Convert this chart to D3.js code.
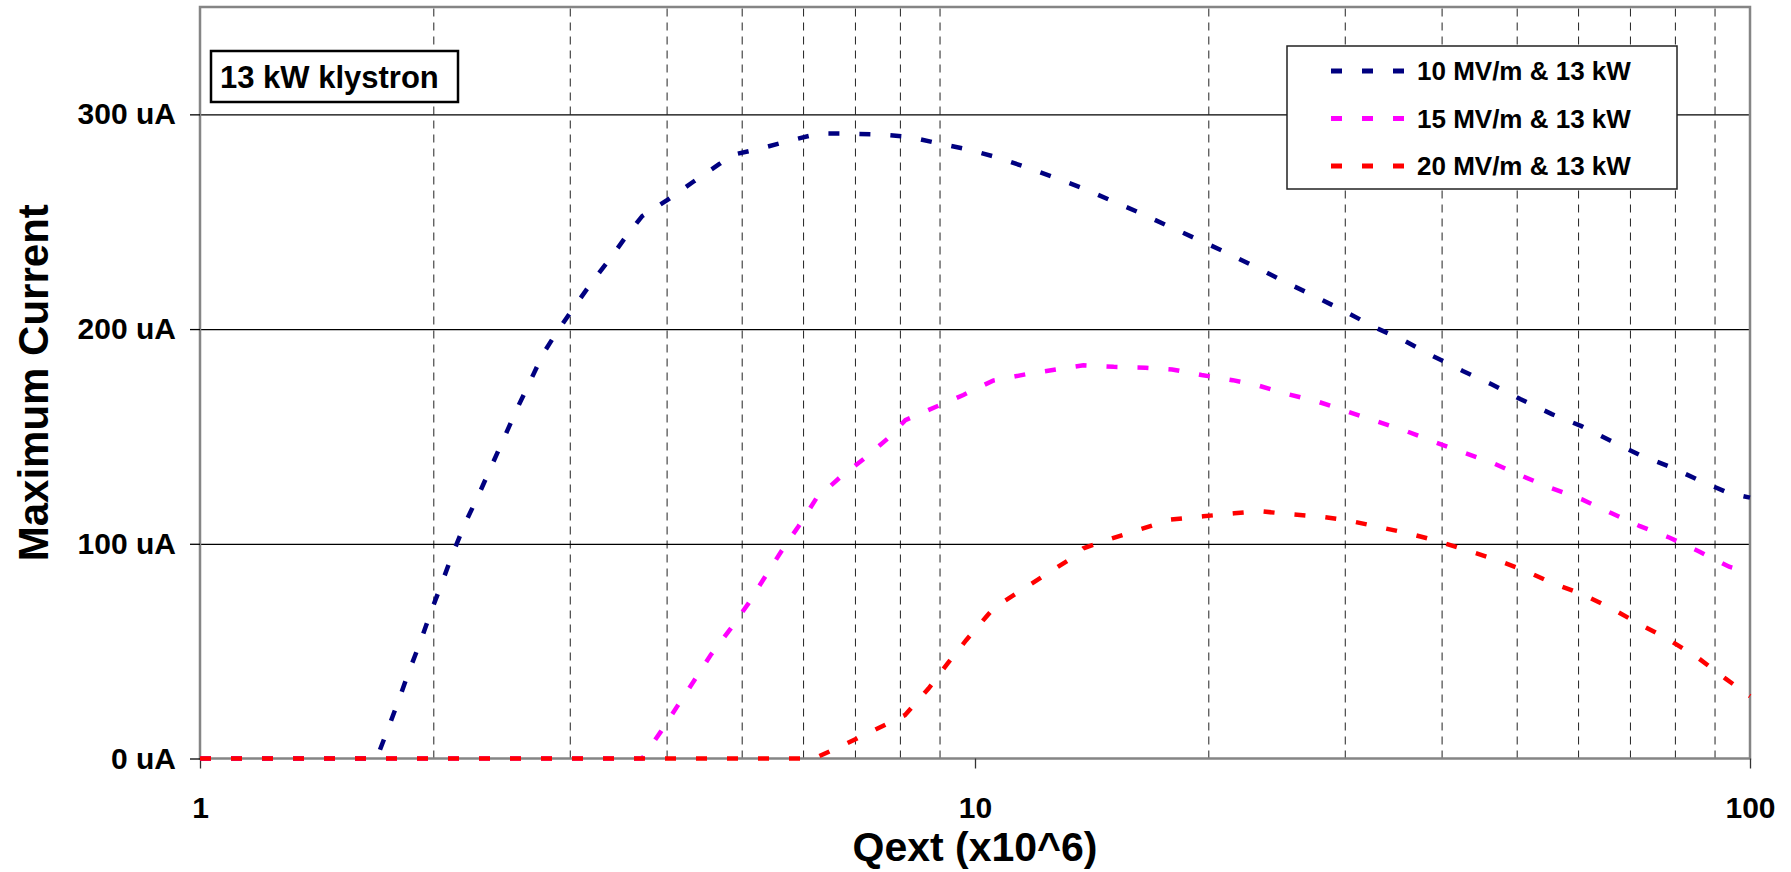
<!DOCTYPE html>
<html><head><meta charset="utf-8">
<script src="https://cdn.jsdelivr.net/npm/d3@7"></script>
<style>
body{margin:0;background:#fff}
svg{display:block}
text{font-family:"Liberation Sans",Arial,sans-serif;font-weight:bold;fill:#000}
</style>
</head><body>
<svg id="chart" width="1791" height="872"></svg>
<script>
// ---- data ----
const seriesNames = ["10 MV/m & 13 kW", "15 MV/m & 13 kW", "20 MV/m & 13 kW"];
const seriesColors = ["#000080", "#ff00ff", "#ff0000"];

const qext10 = [1, 1.69, 1.749, 1.806, 1.862, 1.925, 1.984, 2.049, 2.115, 2.198, 2.29, 2.377, 2.467, 2.56, 2.665,
  2.77, 2.88, 3.03, 3.2, 3.38, 3.57, 3.72, 4.02, 4.33, 4.68, 4.85, 5.3, 5.8, 6.3, 6.88,
  7.56, 8.2, 8.94, 9.78, 10.6, 11.6, 12.6, 13.8, 15.0, 16.3, 17.8, 19.5, 21.2, 23.2, 25.3,
  27.4, 30.1, 32.9, 35.8, 39.0, 42.6, 46.4, 50.6, 55.5, 60.6, 66.1, 72.1, 78.8, 85.8, 94.0, 100];
const current10 = [0, 0, 14, 27.5, 40.9, 54.4, 67.9, 81.2, 94.7, 109.5, 123, 136.2, 149.1, 162.3, 175.4,
  188.4, 198, 209.6, 221.6, 232.7, 244.6, 252.6, 260.4, 268.6, 276.9, 281, 284.2, 288, 291.1, 291,
  290.6, 289.6, 286.6, 283.7, 280.3, 275.6, 270.9, 265.5, 259.8, 254.2, 247.8, 241.3, 235.3, 228.3, 221.4,
  215.4, 208, 200.6, 194.6, 187.4, 180.5, 174.3, 167.3, 160.4, 154.8, 148, 141.3, 135.9, 129.7, 123.5, 121.5];

const qext15 = [1, 3.72, 3.93, 4.13, 4.34, 4.56, 4.83, 5.10, 5.35, 5.62, 5.92, 6.24, 6.71, 7.2, 7.75,
  8.13, 8.89, 9.66, 10.55, 11.65, 12.75, 13.8, 15.1, 16.6, 17.96, 19.6, 21.5, 23.3, 25.4, 27.8,
  30.2, 33.0, 36.0, 39.4, 42.8, 46.8, 51.1, 55.5, 60.7, 66.3, 72.1, 78.8, 86.1, 94.0, 100];
const current15 = [0, 0, 12.4, 24.4, 36.2, 48.2, 60.1, 72.2, 84.2, 96.3, 108.2, 121.1, 131.2, 139.8, 149.6,
  157.6, 163.7, 169.3, 176, 179, 181.2, 183.1, 182.4, 182, 181.2, 178.6, 176.2, 173.5, 169.6, 166,
  161.7, 157, 152.5, 147.1, 142.4, 137.3, 131.2, 125.8, 120.7, 114.2, 108.2, 102.8, 96.3, 89.3, 86.5];

const qext20 = [1, 6.2, 6.83, 7.41, 8.12, 8.71, 9.22, 9.74, 10.34, 10.6, 11.45, 12.37, 13.35, 13.8, 15.0,
  16.4, 17.9, 19.7, 21.6, 23.3, 25.5, 28.0, 30.2, 33.1, 36.3, 39.4, 43.0, 46.9, 51.1, 55.5,
  60.7, 66.3, 72.0, 78.2, 85.9, 92.9, 100];
const current20 = [0, 0, 7, 13.2, 20.2, 32.6, 44.3, 55.1, 66, 70.4, 78.1, 85.9, 93.5, 97.9, 102.4,
  106.9, 111.3, 112.8, 114.2, 115.2, 113.8, 112.6, 111, 107.9, 104.8, 101.4, 97.1, 92.7, 87.7, 81.8,
  76.6, 69.9, 62.6, 55.8, 46.6, 37.3, 29];

const xTickValues = [1, 10, 100];
const xTickLabels = ["1", "10", "100"];
const xMinorValues = [2, 3, 4, 5, 6, 7, 8, 9, 20, 30, 40, 50, 60, 70, 80, 90];
const yTickValues = [0, 100, 200, 300];
const yTickLabels = ["0 uA", "100 uA", "200 uA", "300 uA"];
const xTitle = "Qext (x10^6)";
const yTitle = "Maximum Current";
const boxTitle = "13 kW klystron";

// ---- layout ----
const L = 200, R = 1750, T = 7, B = 758.5;
const svg = d3.select("#chart");
const x = d3.scaleLog().domain([1, 100]).range([L, R]);
const y = d3.scaleLinear().domain([0, 350]).range([B, T]);

// vertical dashed grid
const gx = svg.append("g").attr("transform", `translate(0,${B})`)
  .call(d3.axisBottom(x).tickValues(xMinorValues).tickSize(-(B - T)).tickFormat(""));
gx.select(".domain").remove();
gx.selectAll("line").attr("stroke", "#222").attr("stroke-width", 1).attr("stroke-dasharray", "8,6");

// horizontal grid
const gy = svg.append("g").attr("transform", `translate(${L},0)`)
  .call(d3.axisLeft(y).tickValues(yTickValues.filter(v => v > 0)).tickSize(-(R - L)).tickFormat(""));
gy.select(".domain").remove();
gy.selectAll("line").attr("stroke", "#000").attr("stroke-width", 1.3);

// frame
svg.append("rect").attr("x", L).attr("y", T).attr("width", R - L).attr("height", B - T)
  .attr("fill", "none").attr("stroke", "#858585").attr("stroke-width", 2.5);

// y axis ticks + labels
const ay = svg.append("g").attr("transform", `translate(${L},0)`)
  .call(d3.axisLeft(y).tickValues(yTickValues).tickSize(10).tickPadding(14)
    .tickFormat((d, i) => yTickLabels[i]));
ay.select(".domain").remove();
ay.selectAll("line").attr("stroke", "#000").attr("stroke-width", 1.3);
ay.selectAll("text").attr("font-size", 30).attr("font-family", "Liberation Sans, Arial, sans-serif")
  .attr("font-weight", "bold").attr("fill", "#000");

// x axis ticks + labels
const ax = svg.append("g").attr("transform", `translate(0,${B})`)
  .call(d3.axisBottom(x).tickValues(xTickValues).tickSize(10).tickPadding(28)
    .tickFormat((d, i) => xTickLabels[i]));
ax.select(".domain").remove();
ax.selectAll("line").attr("stroke", "#333").attr("stroke-width", 1.3);
ax.selectAll("text").attr("font-size", 30).attr("font-family", "Liberation Sans, Arial, sans-serif")
  .attr("font-weight", "bold").attr("fill", "#000");

// series
const series = [
  {q: qext10, c: current10},
  {q: qext15, c: current15},
  {q: qext20, c: current20}
];
const line = d3.line().x(d => x(d[0])).y(d => y(d[1]));
series.forEach((s, i) => {
  const pts = s.q.map((q, k) => [q, s.c[k]]);
  svg.append("path").datum(pts).attr("d", line)
    .attr("fill", "none").attr("stroke", seriesColors[i]).attr("stroke-width", 4.5)
    .attr("stroke-dasharray", "11,20").attr("stroke-linecap", "butt");
});

// axis titles
svg.append("text").attr("x", (L + R) / 2).attr("y", 861).attr("text-anchor", "middle")
  .attr("font-size", 41).text(xTitle);
svg.append("text").attr("transform", `translate(48,${(T + B) / 2}) rotate(-90)`)
  .attr("text-anchor", "middle").attr("font-size", 42).text(yTitle);

// title box
svg.append("rect").attr("x", 211).attr("y", 51).attr("width", 247).attr("height", 51)
  .attr("fill", "#fff").attr("stroke", "#000").attr("stroke-width", 2.5);
svg.append("text").attr("x", 220).attr("y", 77).attr("dy", "0.36em").attr("font-size", 31).text(boxTitle);

// legend
const lg = svg.append("g");
lg.append("rect").attr("x", 1287).attr("y", 46).attr("width", 390).attr("height", 143)
  .attr("fill", "#fff").attr("stroke", "#222").attr("stroke-width", 1.5);
seriesNames.forEach((n, i) => {
  const cy = 71 + i * 47.5;
  lg.append("line").attr("x1", 1331).attr("x2", 1404).attr("y1", cy).attr("y2", cy)
    .attr("stroke", seriesColors[i]).attr("stroke-width", 5).attr("stroke-dasharray", "11,20");
  lg.append("text").attr("x", 1417).attr("y", cy).attr("dy", "0.36em").attr("font-size", 26).text(n);
});
</script>
</body></html>
